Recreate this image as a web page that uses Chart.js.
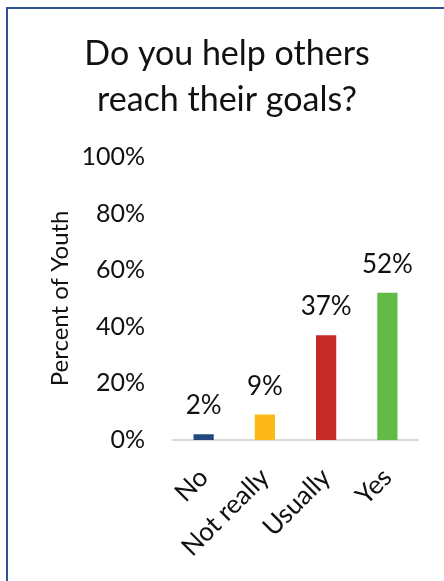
<!DOCTYPE html>
<html>
<head>
<meta charset="utf-8">
<script src="https://cdn.jsdelivr.net/npm/chart.js@4.4.1/dist/chart.umd.min.js"></script>
<style>
    html, body { margin: 0; padding: 0; background: #fff; }
    #wrap { position: relative; width: 444px; height: 581px; overflow: hidden; }
    #frame {
        position: absolute; left: 6px; top: 7px; right: -10px; bottom: -10px;
        border-left: 2px solid #2F5496; border-top: 2px solid #2F5496;
    }
    canvas { position: absolute; left: 0; top: 0; }
</style>
</head>
<body>
<div id="wrap">
    <div id="frame"></div>
    <canvas id="helpChart" width="444" height="581"></canvas>
</div>
<script>
const categories = ["No", "Not really", "Usually", "Yes"];
const percentYouth = [2, 9, 37, 52];
const barColors = ["#22487E", "#FDB918", "#C42B27", "#62BA47"];
const yTicks = [0, 20, 40, 60, 80, 100];

const FONT = "Lato, 'Liberation Sans', sans-serif";

// draws the "52%" style labels above each bar
const valueLabels = {
    id: "valueLabels",
    afterDatasetsDraw(chart) {
        const ctx = chart.ctx;
        const meta = chart.getDatasetMeta(0);
        ctx.save();
        ctx.font = "26px " + FONT;
        ctx.fillStyle = "#111";
        ctx.textAlign = "center";
        ctx.textBaseline = "alphabetic";
        meta.data.forEach(function(bar, i) {
            ctx.fillText(percentYouth[i] + "%", bar.x, bar.y - 20);
        });
        ctx.restore();
    }
};

function initializeChart(){
    const ctx = document.getElementById("helpChart");
    new Chart(ctx, {
        type: "bar",
        data: {
            labels: categories,
            datasets: [{
                data: percentYouth,
                backgroundColor: barColors,
                borderWidth: 0,
                barPercentage: 0.33,
                categoryPercentage: 1
            }]
        },
        options: {
            responsive: false,
            animation: false,
            layout: { padding: { left: 36, right: 26, top: 0, bottom: 0 } },
            plugins: {
                legend: { display: false },
                tooltip: { enabled: false },
                title: {
                    display: true,
                    text: ["Do you help others", "reach their goals?"],
                    color: "#111",
                    font: { family: FONT, size: 34, weight: "normal", lineHeight: 1.35 },
                    padding: { top: 31, bottom: 34 }
                }
            },
            scales: {
                x: {
                    grid: { display: false, drawTicks: false },
                    border: { display: true, color: "#D9D9D9", width: 2 },
                    ticks: {
                        color: "#111",
                        font: { family: FONT, size: 26 },
                        minRotation: 45,
                        maxRotation: 45,
                        padding: 22
                    },
                    afterFit: function(scale) { scale.height = 141; }
                },
                y: {
                    min: 0,
                    max: 100,
                    afterBuildTicks: function(scale) {
                        scale.ticks = yTicks.map(function(v) { return { value: v }; });
                    },
                    grid: { display: false, drawTicks: false },
                    border: { display: false },
                    ticks: {
                        color: "#111",
                        font: { family: FONT, size: 25 },
                        padding: 28,
                        callback: function(v) { return v + "%"; }
                    },
                    title: {
                        display: true,
                        text: "Percent of Youth",
                        color: "#111",
                        font: { family: FONT, size: 24 },
                        padding: { top: 10, bottom: 0 }
                    },
                    afterFit: function(scale) { scale.width = 137; }
                }
            }
        },
        plugins: [valueLabels]
    });
}

document.addEventListener("DOMContentLoaded", initializeChart);
</script>
</body>
</html>
